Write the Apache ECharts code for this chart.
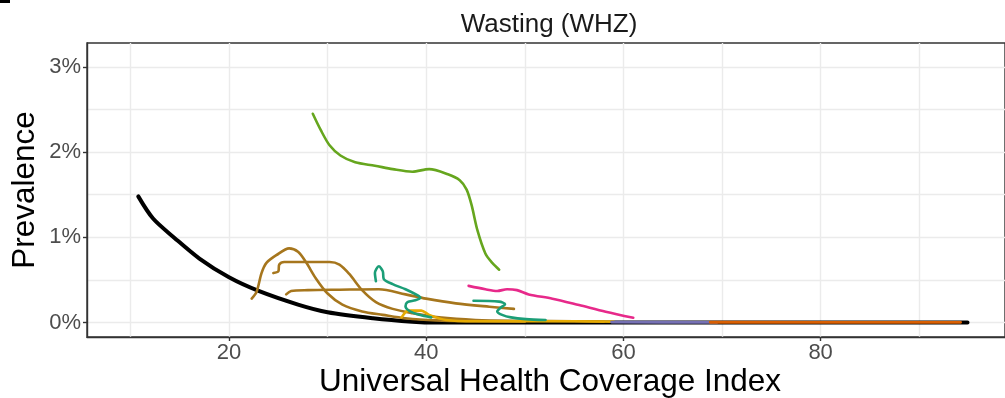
<!DOCTYPE html>
<html>
<head>
<meta charset="utf-8">
<title>Wasting (WHZ)</title>
<script src="https://cdn.jsdelivr.net/npm/echarts@6/dist/echarts.min.js"></script>
<style>
  html, body { margin: 0; padding: 0; background: #ffffff; }
  #chart { width: 1005px; height: 398px; }
</style>
</head>
<body>
<div id="chart"></div>
<script>
// Tick positions and labels
const xTicks = [20, 40, 60, 80];
const xGrid = [10, 20, 30, 40, 50, 60, 70, 80, 90];
const yTicks = [0, 1, 2, 3];
const yGrid = [0, 0.5, 1, 1.5, 2, 2.5, 3];

// Expected prevalence curve (%), by UHC index
const expected = [[10.8,1.48],[12.3,1.22],[14.5,0.99],[17.0,0.75],[20.0,0.53],[23.0,0.37],[27.0,0.21],[30.0,0.12],[34.6,0.05],[38.6,0.01],[41,0],[50,0],[70,0],[94.9,0]];

// Observed trajectories (%), one array per country
const green1 = [[28.5,2.45],[29.3,2.26],[30.2,2.08],[31.3,1.96],[32.8,1.88],[34.8,1.84],[36.6,1.80],[38.6,1.77],[40.3,1.80],[42.2,1.74],[43.4,1.67],[44.1,1.56],[44.6,1.38],[45.2,1.08],[46.0,0.81],[46.7,0.70],[47.4,0.62]];
const brown1 = [[25.8,0.33],[26.3,0.37],[28,0.38],[31.2,0.385],[35.2,0.39],[37.9,0.33],[40.0,0.28],[43.0,0.225],[46.4,0.185],[48.9,0.16]];
const brown2 = [[22.3,0.28],[22.8,0.36],[23.3,0.58],[23.8,0.70],[24.8,0.79],[26.1,0.87],[27.0,0.83],[27.8,0.71],[28.8,0.52],[30.0,0.34],[31.5,0.21],[33.5,0.13],[35.6,0.09],[37.9,0.05],[41,0.025],[45,0.015],[50,0.01]];
const brown3 = [[24.5,0.58],[25.0,0.60],[25.1,0.68],[25.6,0.71],[28,0.71],[30.2,0.71],[31.2,0.68],[32.2,0.57],[33.5,0.38],[34.9,0.24],[36.6,0.16],[38.6,0.11],[41.3,0.06],[45,0.03],[50,0.02],[55,0.015],[58,0.01]];
const gold1 = [[37.5,0.06],[38.2,0.14],[39.5,0.14],[40.3,0.09],[42,0.03],[45,0.015],[50,0.015],[55,0.015],[59,0.01]];
const teal1 = [[34.9,0.485],[34.8,0.58],[35.2,0.66],[35.6,0.60],[35.7,0.51],[36.6,0.45],[37.9,0.39],[39.1,0.32],[39.4,0.29],[38.9,0.26],[38.1,0.24],[37.9,0.19],[38.3,0.135],[39.3,0.09],[40.5,0.06]];
const teal2 = [[44.8,0.255],[47.4,0.245],[48.0,0.215],[47.5,0.17],[47.2,0.13],[47.7,0.09],[48.6,0.06],[50.1,0.04],[52.1,0.03]];
const pink1 = [[44.3,0.43],[46.0,0.39],[47.2,0.37],[48.2,0.39],[49.2,0.38],[50.4,0.33],[52.8,0.28],[55.5,0.205],[58.2,0.127],[61.0,0.056]];
const purple1 = [[58.8,0.005],[64,0.003],[69.5,0.002]];
const orange1 = [[68.8,0.003],[80,0.002],[94.2,0.002]];

const FONT = "'Liberation Sans', Arial, sans-serif";

function trajectory(data, color, width, smooth) {
  return {
    type: 'line', data: data, showSymbol: false, symbol: 'none',
    smooth: smooth, silent: true, animation: false, z: 5,
    lineStyle: { color: color, width: width, cap: 'round', join: 'round' }
  };
}

const gridStyle = { color: '#ebebeb', width: 1.4, type: 'solid' };

const option = {
  animation: false,
  backgroundColor: '#ffffff',
  grid: { left: 87, top: 43, right: -3, bottom: 61, show: true, borderColor: '#333333', borderWidth: 1.4, backgroundColor: 'transparent' },
  xAxis: {
    type: 'value', min: 5.6, max: 98.7,
    axisLine: { show: true, onZero: false, lineStyle: { color: '#333333', width: 1.4 } },
    axisTick: { show: true, customValues: xTicks, length: 4, lineStyle: { color: '#333333', width: 1.4 } },
    axisLabel: { customValues: xTicks, fontSize: 22, color: '#4d4d4d', fontFamily: FONT, margin: 5 },
    splitLine: { show: false }
  },
  yAxis: {
    type: 'value', min: -0.17, max: 3.28,
    axisLine: { show: true, onZero: false, lineStyle: { color: '#333333', width: 1.4 } },
    axisTick: { show: true, customValues: yTicks, length: 4, lineStyle: { color: '#333333', width: 1.4 } },
    axisLabel: { customValues: yTicks, fontSize: 22, color: '#4d4d4d', fontFamily: FONT, margin: 6, formatter: v => v + '%' },
    splitLine: { show: false }
  },
  graphic: [
    { type: 'rect', left: 0, top: 0, shape: { width: 10, height: 3 }, style: { fill: '#000' } },
    { type: 'text', x: 549, y: 25, style: { text: 'Wasting (WHZ)', fontSize: 26, fontFamily: FONT, fill: '#1a1a1a', textAlign: 'center', textVerticalAlign: 'middle' } },
    { type: 'text', x: 550, y: 382, style: { text: 'Universal Health Coverage Index', fontSize: 31.5, fontFamily: FONT, fill: '#000', textAlign: 'center', textVerticalAlign: 'middle' } },
    { type: 'text', x: 25, y: 190, rotation: Math.PI / 2, style: { text: 'Prevalence', fontSize: 31.5, fontFamily: FONT, fill: '#000', textAlign: 'center', textVerticalAlign: 'middle' } }
  ],
  series: [
    {
      // panel grid lines, kept underneath the data lines
      type: 'line', data: [], silent: true, animation: false, z: 0,
      markLine: {
        silent: true, symbol: 'none', animation: false, label: { show: false }, z: 0,
        lineStyle: gridStyle,
        data: xGrid.map(v => ({ xAxis: v })).concat(yGrid.map(v => ({ yAxis: v })))
      }
    },
    trajectory(expected, '#000000', 4, 0.3),
    trajectory(brown1, '#a6761d', 2.6, 0.3),
    trajectory(brown2, '#a6761d', 2.6, 0.3),
    trajectory(brown3, '#a6761d', 2.6, 0.3),
    trajectory(gold1, '#e6ab02', 2.6, 0.3),
    trajectory(teal1, '#1b9e77', 2.6, 0.3),
    trajectory(teal2, '#1b9e77', 2.6, 0.3),
    trajectory(pink1, '#e7298a', 2.6, 0.3),
    trajectory(green1, '#66a61e', 2.6, 0.3),
    trajectory(purple1, '#7570b3', 2.8, 0),
    trajectory(orange1, '#d95f02', 2.8, 0)
  ]
};

const chart = echarts.init(document.getElementById('chart'), null, { renderer: 'canvas' });
chart.setOption(option);
</script>
</body>
</html>
